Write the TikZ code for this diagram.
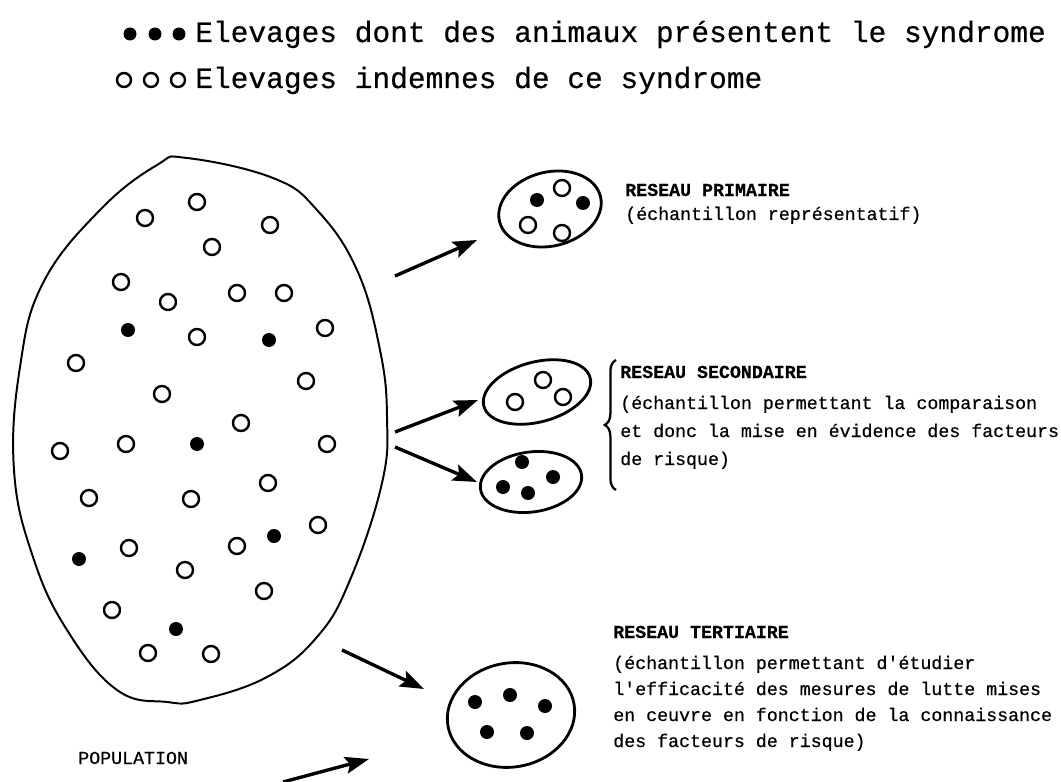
\documentclass[tikz,border=0pt]{standalone}
\usepackage{fontspec}
\setmonofont{Liberation Mono}
\newfontfamily\typer[FakeBold=0.5]{Liberation Mono}
\usetikzlibrary{arrows.meta}
\usetikzlibrary{shapes.geometric}
\usetikzlibrary{decorations.pathreplacing}

\tikzset{
  sick/.style={fill=black},
  healthy/.style={draw=black, line width=1.7pt, fill=white},
  pool/.style={ellipse, draw, line width=2pt, inner sep=0pt},
  push/.style={line width=2.4pt, -{Stealth[length=17pt, width=12pt, inset=3pt]}},
  legend/.style={font=\typer\fontsize{21}{24}\selectfont, anchor=base west, inner sep=0pt},
  caption/.style={font=\typer\fontsize{13}{16}\selectfont, anchor=base west, inner sep=0pt},
}

\begin{document}
\begin{tikzpicture}[x=0.025cm, y=-0.025cm]
    \useasboundingbox (0, 0) rectangle (1061, 782);
    % legende
    \foreach \x in {130, 155, 179} \fill[sick] (\x, 34) circle (6.5);
    \foreach \x in {124, 151, 178} \draw[healthy] (\x, 80) circle (7);
    \node[legend] (leg1) at (195, 42) {Elevages dont des animaux présentent le syndrome};
    \node[legend] (leg2) at (195, 88) {Elevages indemnes de ce syndrome};
    % population
    \draw[line width=1.4pt] plot[smooth cycle, tension=0.7] coordinates {
        (187, 158) (273, 178) (317, 210) (357, 270) (380, 350) (387, 417)
        (382, 483) (350, 580) (317, 637) (267, 677) (200, 700) (167, 702)
        (117, 690) (67, 630) (33, 557) (14, 470) (20, 367) (43, 283)
        (100, 210) (157, 165)};
    \foreach \x/\y in {197/202, 145/218, 270/225, 212/247, 121/282, 168/302,
                       237/293, 284/293, 325/328, 197/337, 76/363, 306/381,
                       162/394, 241/423, 60/451, 126/444, 327/444, 268/483,
                       89/498, 191/499, 318/525, 129/548, 237/546, 185/570,
                       264/591, 112/610, 148/653, 211/654}
        \draw[healthy] (\x, \y) circle (8);
    \foreach \x/\y in {128/330, 269/340, 197/444, 79/559, 274/536, 176/629}
        \fill[sick] (\x, \y) circle (7);
    \node[caption] (pop) at (78, 764) {POPULATION};
    % reseaux
    \node[pool, minimum width=104*0.025cm, minimum height=74*0.025cm, rotate=14] (prim) at (550, 209) {};
    \node[pool, minimum width=110*0.025cm, minimum height=60*0.025cm, rotate=15] (secA) at (537, 392) {};
    \node[pool, minimum width=102*0.025cm, minimum height=60*0.025cm, rotate=8] (secB) at (531, 482) {};
    \node[pool, minimum width=128*0.025cm, minimum height=104*0.025cm, rotate=10] (tert) at (511, 715) {};
    \foreach \x/\y in {537/200, 583/203, 522/462, 553/477, 503/487, 528/493,
                       475/702, 510/695, 545/706, 487/732, 527/733}
        \fill[sick] (\x, \y) circle (7);
    \foreach \x/\y in {562/188, 528/225, 562/233, 543/380, 515/402, 563/397}
        \draw[healthy] (\x, \y) circle (8);
    % fleches
    \coordinate (a1s) at (395, 276);
    \coordinate (a1e) at (477, 240);
    \coordinate (a2s) at (395, 432);
    \coordinate (a2e) at (478, 400);
    \coordinate (a3s) at (395, 447);
    \coordinate (a3e) at (477, 482);
    \coordinate (a4s) at (342, 650);
    \coordinate (a4e) at (424, 689);
    \coordinate (a5s) at (283, 782);
    \coordinate (a5e) at (369, 759);
    \draw[push] (a1s) -- (a1e);
    \draw[push] (a2s) -- (a2e);
    \draw[push] (a3s) -- (a3e);
    \draw[push] (a4s) -- (a4e);
    \draw[push] (a5s) -- (a5e);
    % textes
    \node[caption] (p1) at (625, 196) {\bfseries RESEAU PRIMAIRE};
    \node[caption] (p2) at (625, 220) {(échantillon représentatif)};
    \draw[line width=1.6pt, decorate, decoration={brace, amplitude=8pt}] (616, 490) -- (616, 360);
    \node[caption] (s1) at (620, 378) {\bfseries RESEAU SECONDAIRE};
    \node[caption] (s2) at (620, 409) {(échantillon permettant la comparaison};
    \node[caption] (s3) at (620, 437) {et donc la mise en évidence des facteurs};
    \node[caption] (s4) at (620, 465) {de risque)};
    \node[caption] (t1) at (613, 638) {\bfseries RESEAU TERTIAIRE};
    \node[caption] (t2) at (613, 669) {(échantillon permettant d'étudier};
    \node[caption] (t3) at (613, 695) {l'efficacité des mesures de lutte mises};
    \node[caption] (t4) at (613, 721) {en ceuvre en fonction de la connaissance};
    \node[caption] (t5) at (613, 747) {des facteurs de risque)};
\end{tikzpicture}
\end{document}
